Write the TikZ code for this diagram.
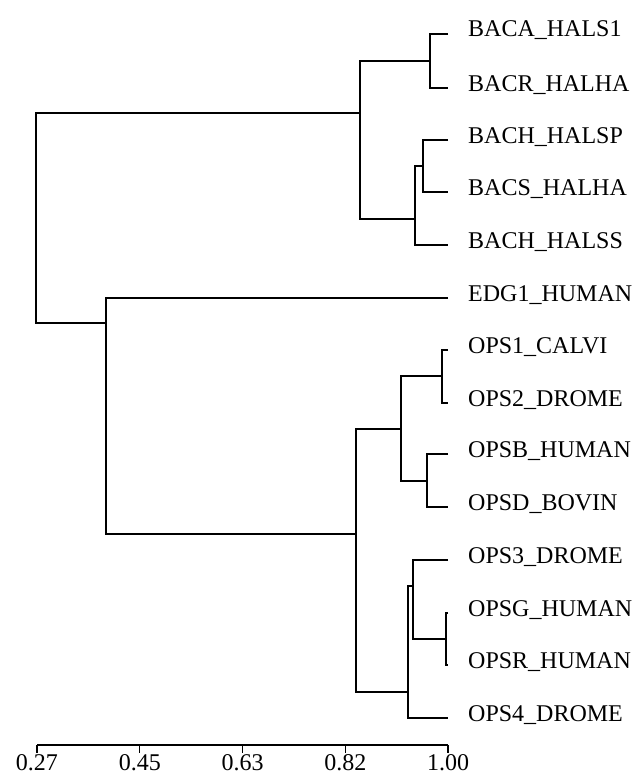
\documentclass[tikz,border=0pt]{standalone}
\usepackage{fontspec}
\setmainfont{Liberation Serif}
\begin{document}
\begin{tikzpicture}[x=1pt,y=-1pt,
  branch/.style={draw=black, line width=1.3pt, line join=miter},
  leaflabel/.style={anchor=base west, inner sep=0pt, font=\fontsize{24}{28}\selectfont},
  ticklabel/.style={anchor=base, inner sep=0pt, font=\fontsize{24}{28}\selectfont}]
\useasboundingbox (0,0) rectangle (634,776);
% leaf tips
\foreach \n/\y in {A/34,B/88,C/140,D/192,E/245,F/298,G/350,H/403,I/454,J/507,K/560,L/613,M/665,N/718}
  \coordinate (t\n) at (448,\y);
% leaf labels
\node[leaflabel] (lA) at (468,37) {BACA\_HALS1};
\node[leaflabel] (lB) at (468,91) {BACR\_HALHA};
\node[leaflabel] (lC) at (468,143) {BACH\_HALSP};
\node[leaflabel] (lD) at (468,195) {BACS\_HALHA};
\node[leaflabel] (lE) at (468,248) {BACH\_HALSS};
\node[leaflabel] (lF) at (468,301) {EDG1\_HUMAN};
\node[leaflabel] (lG) at (468,353) {OPS1\_CALVI};
\node[leaflabel] (lH) at (468,406) {OPS2\_DROME};
\node[leaflabel] (lI) at (468,457) {OPSB\_HUMAN};
\node[leaflabel] (lJ) at (468,510) {OPSD\_BOVIN};
\node[leaflabel] (lK) at (468,563) {OPS3\_DROME};
\node[leaflabel] (lL) at (468,616) {OPSG\_HUMAN};
\node[leaflabel] (lM) at (468,668) {OPSR\_HUMAN};
\node[leaflabel] (lN) at (468,721) {OPS4\_DROME};
% internal nodes
\coordinate (AB) at (430,61);
\coordinate (CD) at (423,166);
\coordinate (CDE) at (415,219);
\coordinate (Bac) at (360,113);
\coordinate (GH) at (442,376);
\coordinate (IJ) at (427,481);
\coordinate (GHIJ) at (401,429);
\coordinate (LM) at (446,639);
\coordinate (KLM) at (413,586);
\coordinate (KLMN) at (408,692);
\coordinate (Ops) at (356,534);
\coordinate (FOps) at (106,323);
\coordinate (Root) at (36,200);
% branches
\draw[branch] (tA) -| (AB) |- (tB);
\draw[branch] (tC) -| (CD) |- (tD);
\draw[branch] (CD) -| (CDE) |- (tE);
\draw[branch] (AB) -| (Bac) |- (CDE);
\draw[branch] (tG) -| (GH) |- (tH);
\draw[branch] (tI) -| (IJ) |- (tJ);
\draw[branch] (GH) -| (GHIJ) |- (IJ);
\draw[branch] (tL) -| (LM) |- (tM);
\draw[branch] (tK) -| (KLM) |- (LM);
\draw[branch] (KLM) -| (KLMN) |- (tN);
\draw[branch] (GHIJ) -| (Ops) |- (KLMN);
\draw[branch] (tF) -| (FOps) |- (Ops);
\draw[branch] (Bac) -| (Root) |- (FOps);
% axis
\coordinate (x0) at (37,745);
\coordinate (x1) at (139.75,745);
\coordinate (x2) at (242.5,745);
\coordinate (x3) at (345.25,745);
\coordinate (x4) at (448,745);
\draw[branch] (x0) -- (x4);
\foreach \c/\t in {x0/0.27,x1/0.45,x2/0.63,x3/0.82,x4/1.00}{
  \draw[branch] (\c) -- ++(0,8);
  \node[ticklabel] (l\c) at ([yshift=-25.5pt]\c) {\t};
}
\end{tikzpicture}
\end{document}
